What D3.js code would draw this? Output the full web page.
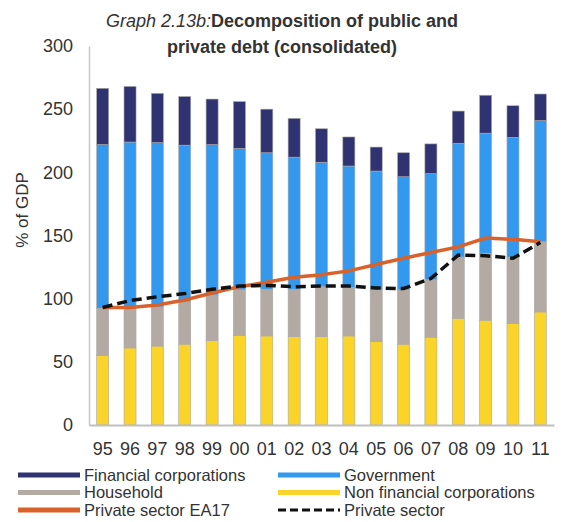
<!DOCTYPE html>
<html lang="en">
<head>
<meta charset="UTF-8">
<title>Decomposition of public and private debt</title>
<script src="https://d3js.org/d3.v7.min.js"></script>
<style>
    body { margin: 0; background: #fff; font-family: 'Liberation Sans', Arial, sans-serif; }
    svg text { fill: #333; }
</style>
</head>
<body>
<div id="chart"></div>
<script>
// data (% of GDP)
const years = ["95","96","97","98","99","00","01","02","03","04","05","06","07","08","09","10","11"];
const nonFinancial = [55, 61, 62.5, 64, 67, 71, 70.5, 70, 70, 70.5, 66, 64, 69.5, 84.5, 83, 80.5, 89.5];
const household = [37.5, 31, 31, 33.5, 36, 36, 37, 37.5, 39.5, 38.5, 41, 43, 45.5, 48.5, 53, 52.5, 55.5];
const government = [129.5, 132, 130, 124, 119, 112, 108, 104.5, 98.5, 96, 94, 89.5, 84, 90, 95, 94.7, 96];
const financial = [44.5, 44, 39, 38.5, 36, 37, 34.5, 30.7, 26.5, 23, 19, 19, 23.5, 25.5, 30, 25, 21];
const privateEA17 = [93, 93, 95, 99, 104.5, 109.5, 113, 117, 119, 122, 127, 132, 136.5, 141, 148, 147, 145];
const privateSector = [93, 98.5, 101.5, 104, 107.5, 110, 110.5, 109.5, 110, 110, 108.5, 108, 116, 134.5, 134, 132, 144.5];
const yTicks = [0, 50, 100, 150, 200, 250, 300];

const stackKeys = ["nonFinancial", "household", "government", "financial"];
const colors = {
    nonFinancial: "#fbd42a",
    household: "#b3aaa3",
    government: "#3399ee",
    financial: "#2f3372"
};

const rows = years.map((y, i) => ({
    year: y,
    nonFinancial: nonFinancial[i],
    household: household[i],
    government: government[i],
    financial: financial[i]
}));

const width = 563, height = 522;
const svg = d3.select("#chart").append("svg")
    .attr("width", width)
    .attr("height", height);

const x = d3.scaleBand().domain(years).range([89, 554]).paddingInner(0.56).paddingOuter(0.28);
const y = d3.scaleLinear().domain([0, 300]).range([425, 46]);

// title
const title = svg.append("text")
    .attr("x", 282).attr("y", 27)
    .attr("text-anchor", "middle")
    .style("font-size", "18px");
title.append("tspan").style("font-style", "italic").text("Graph 2.13b:");
title.append("tspan").style("font-weight", "bold").text("Decomposition of public and");
svg.append("text")
    .attr("x", 282).attr("y", 53)
    .attr("text-anchor", "middle")
    .style("font-size", "18px")
    .style("font-weight", "bold")
    .text("private debt (consolidated)");

// stacked bars
const series = d3.stack().keys(stackKeys)(rows);
svg.append("g").selectAll("g")
    .data(series)
    .join("g")
    .attr("fill", d => colors[d.key])
    .selectAll("rect")
    .data(d => d)
    .join("rect")
    .attr("x", d => x(d.data.year))
    .attr("y", d => y(d[1]))
    .attr("width", x.bandwidth())
    .attr("height", d => y(d[0]) - y(d[1]))
    .attr("stroke", "#a8a8a8")
    .attr("stroke-width", 0.6);

// axes
const yAxis = svg.append("g")
    .attr("transform", "translate(89,0)")
    .call(d3.axisLeft(y).tickValues(yTicks).tickSize(0).tickPadding(16));
yAxis.select(".domain").attr("stroke", "#c8c8c8").attr("stroke-width", 1.5);
yAxis.selectAll("text").style("font-size", "18px").attr("fill", "#333");

const xAxis = svg.append("g")
    .attr("transform", "translate(0,425)")
    .call(d3.axisBottom(x).tickSize(0).tickPadding(17));
xAxis.select(".domain").attr("stroke", "#c0c0c0").attr("stroke-width", 2);
xAxis.selectAll("text").style("font-size", "18px").attr("fill", "#333");

svg.append("text")
    .attr("transform", "translate(28,210) rotate(-90)")
    .attr("text-anchor", "middle")
    .style("font-size", "17px")
    .text("% of GDP");

// lines
const cx = (d, i) => x(years[i]) + x.bandwidth() / 2;
svg.append("path")
    .datum(privateEA17)
    .attr("fill", "none")
    .attr("stroke", "#d9622b")
    .attr("stroke-width", 3.5)
    .attr("d", d3.line().x(cx).y(d => y(d)));

svg.append("path")
    .datum(privateSector)
    .attr("fill", "none")
    .attr("stroke", "#111")
    .attr("stroke-width", 3.5)
    .attr("stroke-dasharray", "10,5")
    .attr("d", d3.line().x(cx).y(d => y(d)));

// legend
const legendItems = [
    { label: "Financial corporations", color: colors.financial, dash: null, col: 0, row: 0 },
    { label: "Government", color: colors.government, dash: null, col: 1, row: 0 },
    { label: "Household", color: colors.household, dash: null, col: 0, row: 1 },
    { label: "Non financial corporations", color: colors.nonFinancial, dash: null, col: 1, row: 1 },
    { label: "Private sector EA17", color: "#d9622b", dash: null, col: 0, row: 2 },
    { label: "Private sector", color: "#111", dash: "8,4", col: 1, row: 2 }
];
const legend = svg.append("g").selectAll("g")
    .data(legendItems)
    .join("g")
    .attr("transform", d => `translate(${d.col ? 278 : 18},${475 + d.row * 17.5})`);
legend.append("line")
    .attr("x1", 0).attr("x2", 62)
    .attr("stroke", d => d.color)
    .attr("stroke-width", d => d.dash ? 3 : 5)
    .attr("stroke-dasharray", d => d.dash);
legend.append("text")
    .attr("x", 66).attr("dy", "0.35em")
    .style("font-size", "16.5px")
    .text(d => d.label);
</script>
</body>
</html>
